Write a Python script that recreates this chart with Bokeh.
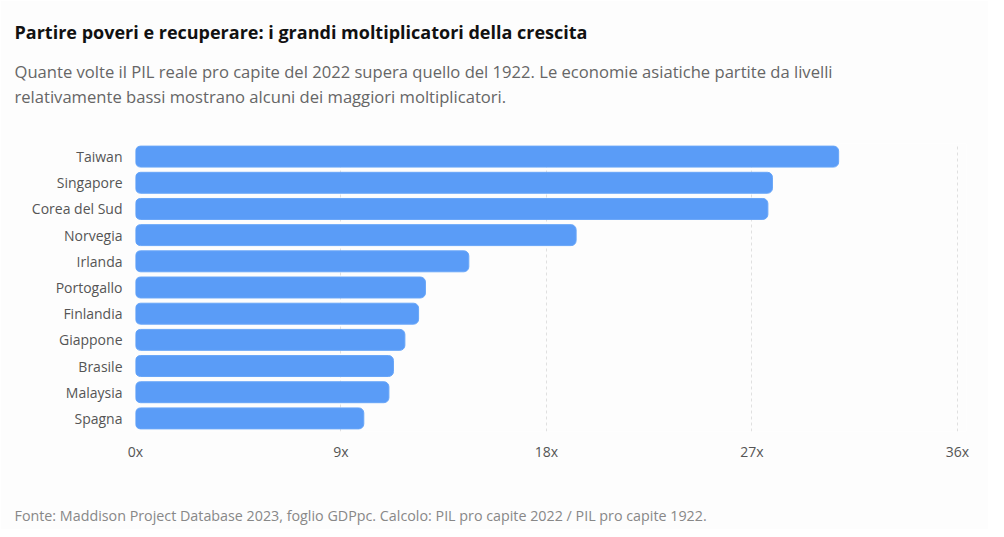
from bokeh.plotting import figure
from bokeh.models import Title, FixedTicker, PrintfTickFormatter, Range1d, FactorRange, ColumnDataSource
from bokeh.embed import file_html
from bokeh.resources import INLINE

countries = ["Taiwan", "Singapore", "Corea del Sud", "Norvegia", "Irlanda", "Portogallo",
             "Finlandia", "Giappone", "Brasile", "Malaysia", "Spagna"]
multipliers = [30.8, 27.9, 27.7, 19.3, 14.6, 12.7, 12.4, 11.8, 11.3, 11.1, 10.0]
ticks = [0, 9, 18, 27, 36]

title_text = "Partire poveri e recuperare: i grandi moltiplicatori della crescita"
sub1 = "Quante volte il PIL reale pro capite del 2022 supera quello del 1922. Le economie asiatiche partite da livelli"
sub2 = "relativamente bassi mostrano alcuni dei maggiori moltiplicatori."
source_text = "Fonte: Maddison Project Database 2023, foglio GDPpc. Calcolo: PIL pro capite 2022 / PIL pro capite 1922."

FONT = "Open Sans"
BG = "#fdfdfd"

src = ColumnDataSource(dict(country=countries, value=multipliers))

p = figure(width=988, height=529, output_backend="svg", toolbar_location=None,
           title=None,
           y_range=FactorRange(factors=list(reversed(countries))),
           x_range=Range1d(0, 36.4),
           min_border_left=135, min_border_right=22, min_border_top=0, min_border_bottom=0)

p.outline_line_color = None
p.background_fill_color = BG
p.border_fill_color = BG

kw = dict(y="country", right="value", left=0, height=0.8, source=src,
          fill_color="#5a9cf7", line_color="#68a6f8", line_width=1)
try:
    p.hbar(border_radius=5, **kw)
except Exception:
    p.hbar(**kw)

p.xaxis.ticker = FixedTicker(ticks=ticks)
p.xaxis.formatter = PrintfTickFormatter(format="%dx")
for ax in (p.xaxis, p.yaxis):
    ax.axis_line_color = None
    ax.major_tick_line_color = None
    ax.minor_tick_line_color = None
    ax.major_label_text_font = FONT
    ax.major_label_text_font_size = "14px"
    ax.major_label_text_color = "#555555"
p.xaxis.major_label_standoff = 4
p.yaxis.major_label_standoff = 7

p.xgrid.grid_line_color = "#e0e0e0"
p.xgrid.grid_line_dash = "3 3"
p.ygrid.grid_line_color = None


def title(txt, size, color, standoff, style="normal"):
    return Title(text=txt, text_font=FONT, text_font_size=size, text_font_style=style,
                 text_color=color, offset=-121, standoff=standoff,
                 vertical_align="middle", align="left")

# above: first added is nearest the frame
p.add_layout(title(" ", "1px", BG, 31.8), "above")
p.add_layout(title(sub2, "16.6px", "#666666", 0.04), "above")
p.add_layout(title(sub1, "16.6px", "#666666", 0.04), "above")
p.add_layout(title(title_text, "18px", "#111111", 27.1, "bold"), "above")
p.add_layout(title(" ", "1px", BG, 1.42), "above")

# below: after the x axis
p.add_layout(title(" ", "1px", BG, 34.5), "below")
p.add_layout(title(source_text, "14.3px", "#888888", 7.2), "below")

open("out.html", "w").write(file_html(p, INLINE))
